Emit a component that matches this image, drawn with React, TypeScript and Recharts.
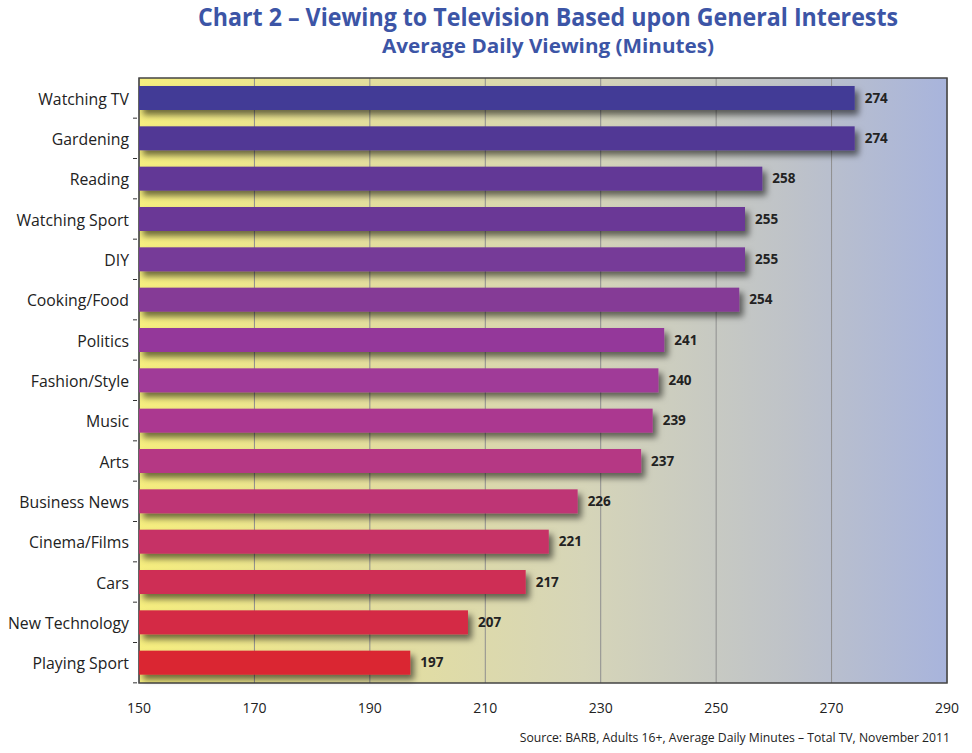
import React from "react";
import {
  BarChart,
  Bar,
  XAxis,
  YAxis,
  CartesianGrid,
  ReferenceArea,
  LabelList,
  Cell,
} from "recharts";

const interests = [
  "Watching TV",
  "Gardening",
  "Reading",
  "Watching Sport",
  "DIY",
  "Cooking/Food",
  "Politics",
  "Fashion/Style",
  "Music",
  "Arts",
  "Business News",
  "Cinema/Films",
  "Cars",
  "New Technology",
  "Playing Sport",
];

const minutes = [274, 274, 258, 255, 255, 254, 241, 240, 239, 237, 226, 221, 217, 207, 197];

const barColors = [
  "#433A96",
  "#513895",
  "#623996",
  "#6B3996",
  "#763A98",
  "#853A96",
  "#94399A",
  "#A03A98",
  "#AB3990",
  "#B53784",
  "#BE3475",
  "#C63166",
  "#CE2E55",
  "#D42A44",
  "#DA2530",
];

const xTicks = [150, 170, 190, 210, 230, 250, 270, 290];

const data = interests.map((name, i) => ({ name, value: minutes[i] }));

const FONT = "'Open Sans', 'Noto Sans', sans-serif";
const TITLE_BLUE = "#3C55A6";

function ShadowBar(props: any) {
  const { x, y, width, height, fill } = props;
  return <rect x={x} y={y} width={width} height={height} fill={fill} filter="url(#barShadow)" />;
}

function CategoryTick(props: any) {
  const { x, y, payload } = props;
  return (
    <g>
      <line x1={x + 2} x2={x + 6} y1={y + 20} y2={y + 20} stroke="#333" strokeWidth={1} />
      <text x={x - 2} y={y} dy={6.5} textAnchor="end" fontSize={15.8} fill="#222" fontFamily={FONT}>
        {payload.value}
      </text>
    </g>
  );
}

function ValueTick(props: any) {
  const { x, y, payload } = props;
  return (
    <text x={x} y={y} dy={22} textAnchor="middle" fontSize={14} fill="#222" fontFamily={FONT}>
      {payload.value}
    </text>
  );
}

export default function App() {
  return (
    <div style={{ position: "absolute", left: 0, top: 0, width: 972, height: 753, background: "#fff" }}>
      <svg width={972} height={60} style={{ position: "absolute", left: 0, top: 0 }}>
        <text
          x={548}
          y={26}
          textAnchor="middle"
          fontSize={25}
          fontWeight={700}
          fill={TITLE_BLUE}
          fontFamily={FONT}
          textLength={700}
          lengthAdjust="spacingAndGlyphs"
        >
          Chart 2 – Viewing to Television Based upon General Interests
        </text>
        <text
          x={548}
          y={53}
          textAnchor="middle"
          fontSize={20}
          fontWeight={700}
          fill={TITLE_BLUE}
          fontFamily={FONT}
          textLength={332}
          lengthAdjust="spacingAndGlyphs"
        >
          Average Daily Viewing (Minutes)
        </text>
      </svg>
      <div style={{ position: "absolute", left: 0, top: 0 }}>
        <BarChart
          width={972}
          height={753}
          data={data}
          layout="vertical"
          margin={{ top: 78, right: 25, bottom: 40, left: 0 }}
          barSize={24}
        >
          <defs>
            <linearGradient id="plotBg" x1="0" y1="0" x2="1" y2="0">
              <stop offset="0%" stopColor="#F6EE7E" />
              <stop offset="25%" stopColor="#E6E09A" />
              <stop offset="55%" stopColor="#D6D5B8" />
              <stop offset="80%" stopColor="#BFC3C8" />
              <stop offset="100%" stopColor="#A8B4DC" />
            </linearGradient>
            <filter id="barShadow" x="-10%" y="-50%" width="130%" height="220%">
              <feDropShadow dx={4} dy={5} stdDeviation={3} floodColor="#000" floodOpacity={0.55} />
            </filter>
          </defs>
          <CartesianGrid horizontal={false} stroke="#8E8E8E" fill="url(#plotBg)" />
          <XAxis
            type="number"
            domain={[150, 290]}
            ticks={xTicks}
            allowDataOverflow
            axisLine={false}
            tickLine={false}
            height={30}
            tick={<ValueTick />}
          />
          <YAxis
            type="category"
            dataKey="name"
            width={139}
            axisLine={false}
            tickLine={false}
            tick={<CategoryTick />}
            interval={0}
          />
          <ReferenceArea x1={150} x2={290} fill="none" stroke="#444" strokeWidth={1.5} />
          <Bar dataKey="value" shape={<ShadowBar />} isAnimationActive={false}>
            {data.map((d, i) => (
              <Cell key={d.name} fill={barColors[i]} />
            ))}
            <LabelList
              dataKey="value"
              position="right"
              offset={10}
              fontSize={13.5}
              fontWeight={700}
              fill="#222"
              fontFamily={FONT}
            />
          </Bar>
        </BarChart>
      </div>
      <div
        style={{
          position: "absolute",
          right: 22,
          top: 729,
          fontFamily: FONT,
          fontSize: 12.2,
          color: "#222",
          whiteSpace: "nowrap",
        }}
      >
        Source: BARB, Adults 16+, Average Daily Minutes – Total TV, November 2011
      </div>
    </div>
  );
}
